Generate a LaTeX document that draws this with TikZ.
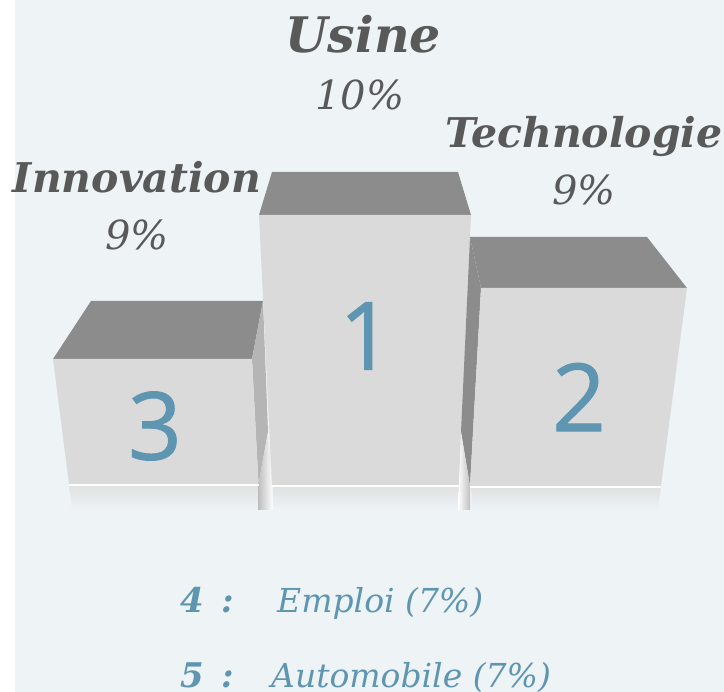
\documentclass[tikz,border=0pt]{standalone}
\usepackage{fontspec}
\setmainfont{DejaVu Serif}
\newfontfamily\digitfont[FakeBold=1]{Open Sans}
\definecolor{podbg}{HTML}{EEF3F6}
\definecolor{podtop}{HTML}{8C8C8C}
\definecolor{podfront}{HTML}{DADADA}
\definecolor{podside}{HTML}{B5B5B5}
\definecolor{podblue}{HTML}{5E95B0}
\definecolor{podtext}{HTML}{595959}
\tikzset{
	rankname/.style={inner sep=0, anchor=base, text=podtext, font=\bfseries\itshape\fontsize{41}{41}\selectfont},
	rankpct/.style={inner sep=0, anchor=base, text=podtext, font=\itshape\fontsize{40}{40}\selectfont},
	ranknum/.style={inner sep=0, text=podblue, font=\digitfont\fontsize{94}{94}\selectfont},
	restnum/.style={inner sep=0, anchor=base west, text=podblue, font=\bfseries\itshape\fontsize{34}{34}\selectfont},
	restname/.style={inner sep=0, anchor=base west, text=podblue, font=\itshape\fontsize{33}{33}\selectfont},
	mirror/.style={top color=black!12, bottom color=podbg},
}

\begin{document}
\begin{tikzpicture}[x=1pt, y=-1pt]
			%%%%% START %%%%%
			\useasboundingbox (0, 0) rectangle (724, 692);
			\fill[white] (0, 0) rectangle (724, 692);
			\fill[podbg] (15, 0) rectangle (724, 692);
			
			% block 3
			\fill[podtop] (91, 301) -- (263, 301) -- (252, 359) -- (53, 359) -- cycle;
			\fill[podside] (252, 359) -- (263, 301) -- (268, 432) -- (258.5, 484) -- cycle;
			\fill[podfront] (53, 359) -- (252, 359) -- (258.5, 484) -- (69, 484) -- cycle;
			\shade[mirror] (69, 485) -- (258.5, 485) -- (258.5, 510) -- (72, 510) -- cycle;
			\shade[left color=black!25, right color=white] (268, 432) -- (258.5, 484) -- (258.5, 510) -- (273, 510) -- (272, 485) -- cycle;
			
			% block 1
			\fill[podtop] (272, 172) -- (458, 172) -- (471, 215) -- (259, 215) -- cycle;
			\fill[podfront] (259, 215) -- (471, 215) -- (459, 485) -- (272, 485) -- cycle;
			\shade[mirror] (273, 486) -- (459, 486) -- (458, 510) -- (274, 510) -- cycle;
			
			% block 2
			\fill[podtop] (470, 237) -- (481, 288) -- (470, 486) -- (461, 432) -- cycle;
			\shade[left color=white, right color=black!25] (461, 432) -- (470, 486) -- (470, 510) -- (458, 510) -- (459, 485) -- cycle;
			\fill[podtop] (470, 237) -- (647, 237) -- (687, 288) -- (481, 288) -- cycle;
			\fill[podfront] (481, 288) -- (687, 288) -- (661, 486) -- (470, 486) -- cycle;
			\shade[mirror] (471, 487) -- (661, 487) -- (658, 510) -- (473, 510) -- cycle;
			
			\draw[white, line width=1.2pt] (69, 485) -- (258.5, 485) (272, 486) -- (459, 486) (470, 487) -- (661, 487);
			
			\node[ranknum] (three) at (155, 426) {3};
			\node[ranknum] (one) at (366, 336) {1};
			\node[ranknum] (two) at (579, 397) {2};
			
			\node[rankname, font=\bfseries\itshape\fontsize{49}{49}\selectfont] (usine) at (363, 53) {Usine};
			\node[rankpct] (usinepct) at (360, 110) {10\%};
			\node[rankname] (techno) at (584, 148) {Technologie};
			\node[rankpct] (technopct) at (584, 205) {9\%};
			\node[rankname] (innov) at (137, 193) {Innovation};
			\node[rankpct] (innovpct) at (137, 250) {9\%};
			
			\node[restnum] (four) at (180, 613) {4};
			\node[restnum] (fourcolon) at (221, 613) {:};
			\node[restname] (emploi) at (277, 613) {Emploi (7\%)};
			\node[restnum] (five) at (180, 688) {5};
			\node[restnum] (fivecolon) at (221, 688) {:};
			\node[restname] (auto) at (271, 688) {Automobile (7\%)};
			%%%%% END %%%%%
\end{tikzpicture}
\end{document}
